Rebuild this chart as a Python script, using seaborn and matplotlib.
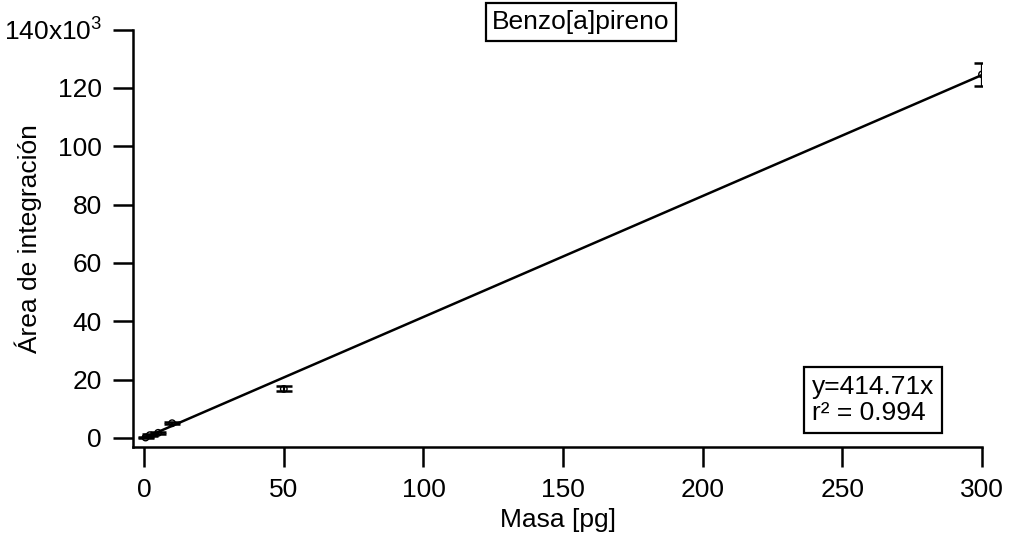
import numpy as np
import pandas as pd
import matplotlib
matplotlib.use("Agg")
import matplotlib.pyplot as plt
import seaborn as sns

# ---- data ----
masa = [0.5, 2, 5, 10, 50, 300]
area = [150, 950, 1750, 5050, 16800, 124600]
area_err = [300, 300, 300, 400, 850, 4000]
slope = 414.71
r2 = 0.994
fit_x = [0, 300]
ytick_vals = [0, 20000, 40000, 60000, 80000, 100000, 120000, 140000]
ytick_labels = ["0", "20", "40", "60", "80", "100", "120", "140x10$^{\\mathrm{3}}$"]
xtick_vals = [0, 50, 100, 150, 200, 250, 300]
title = "Benzo[a]pireno"

sns.set_theme(style="ticks")
plt.rcParams["font.family"] = ["Liberation Sans", "DejaVu Sans"]
plt.rcParams["mathtext.fontset"] = "custom"
plt.rcParams["mathtext.rm"] = "Liberation Sans"
plt.rcParams["mathtext.it"] = "Liberation Sans:italic"
plt.rcParams["text.color"] = "black"

W, H = 1012, 543
fig = plt.figure(figsize=(W / 100, H / 100), dpi=100)
L, R, T, B = 133, 982, 29.5, 447
ax = fig.add_axes([L / W, 1 - B / H, (R - L) / W, (B - T) / H])

df = pd.DataFrame({"masa": masa, "area": area})
fit_df = pd.DataFrame({"x": fit_x, "y": [slope * v for v in fit_x]})

sns.lineplot(data=fit_df, x="x", y="y", ax=ax, color="black", lw=1.8)
ax.errorbar(masa, area, yerr=area_err, fmt="none", ecolor="black",
            elinewidth=1.6, capsize=6, capthick=1.8, zorder=3)
sns.scatterplot(data=df, x="masa", y="area", ax=ax, marker="o",
                facecolor="none", edgecolor="black", linewidth=1.0, s=22, zorder=4)

ax.set_xlim(-4, 300)
ax.set_ylim(-3100, 140000)
ax.set_xticks(xtick_vals)
ax.set_xticklabels([str(v) for v in xtick_vals])
ax.set_yticks(ytick_vals)
ax.set_yticklabels(ytick_labels)

for s in ["top", "right"]:
    ax.spines[s].set_visible(False)
for s in ["left", "bottom"]:
    ax.spines[s].set_linewidth(1.8)
    ax.spines[s].set_color("black")
ax.tick_params(axis="both", direction="out", length=14.4, width=1.8,
               color="black", labelsize=19, labelcolor="black", pad=8)

ax.set_xlabel("Masa [pg]", fontsize=19, color="black", labelpad=4)
ax.set_ylabel("Área de integración", fontsize=19, color="black")
ax.yaxis.set_label_coords((42 - L) / (R - L), 0.5)

fig.text(581 / W, 1 - 22 / H, title, fontsize=19, ha="center", va="center",
         color="black",
         bbox=dict(boxstyle="square,pad=0.25", fc="white", ec="black", lw=1.6))
fig.text(812 / W, 1 - 400 / H, "y=414.71x\nr² = 0.994", fontsize=19,
         ha="left", va="center", linespacing=1.15, color="black",
         bbox=dict(boxstyle="square,pad=0.3", fc="white", ec="black", lw=1.6))

fig.savefig("out.png", dpi=100, facecolor="white")
